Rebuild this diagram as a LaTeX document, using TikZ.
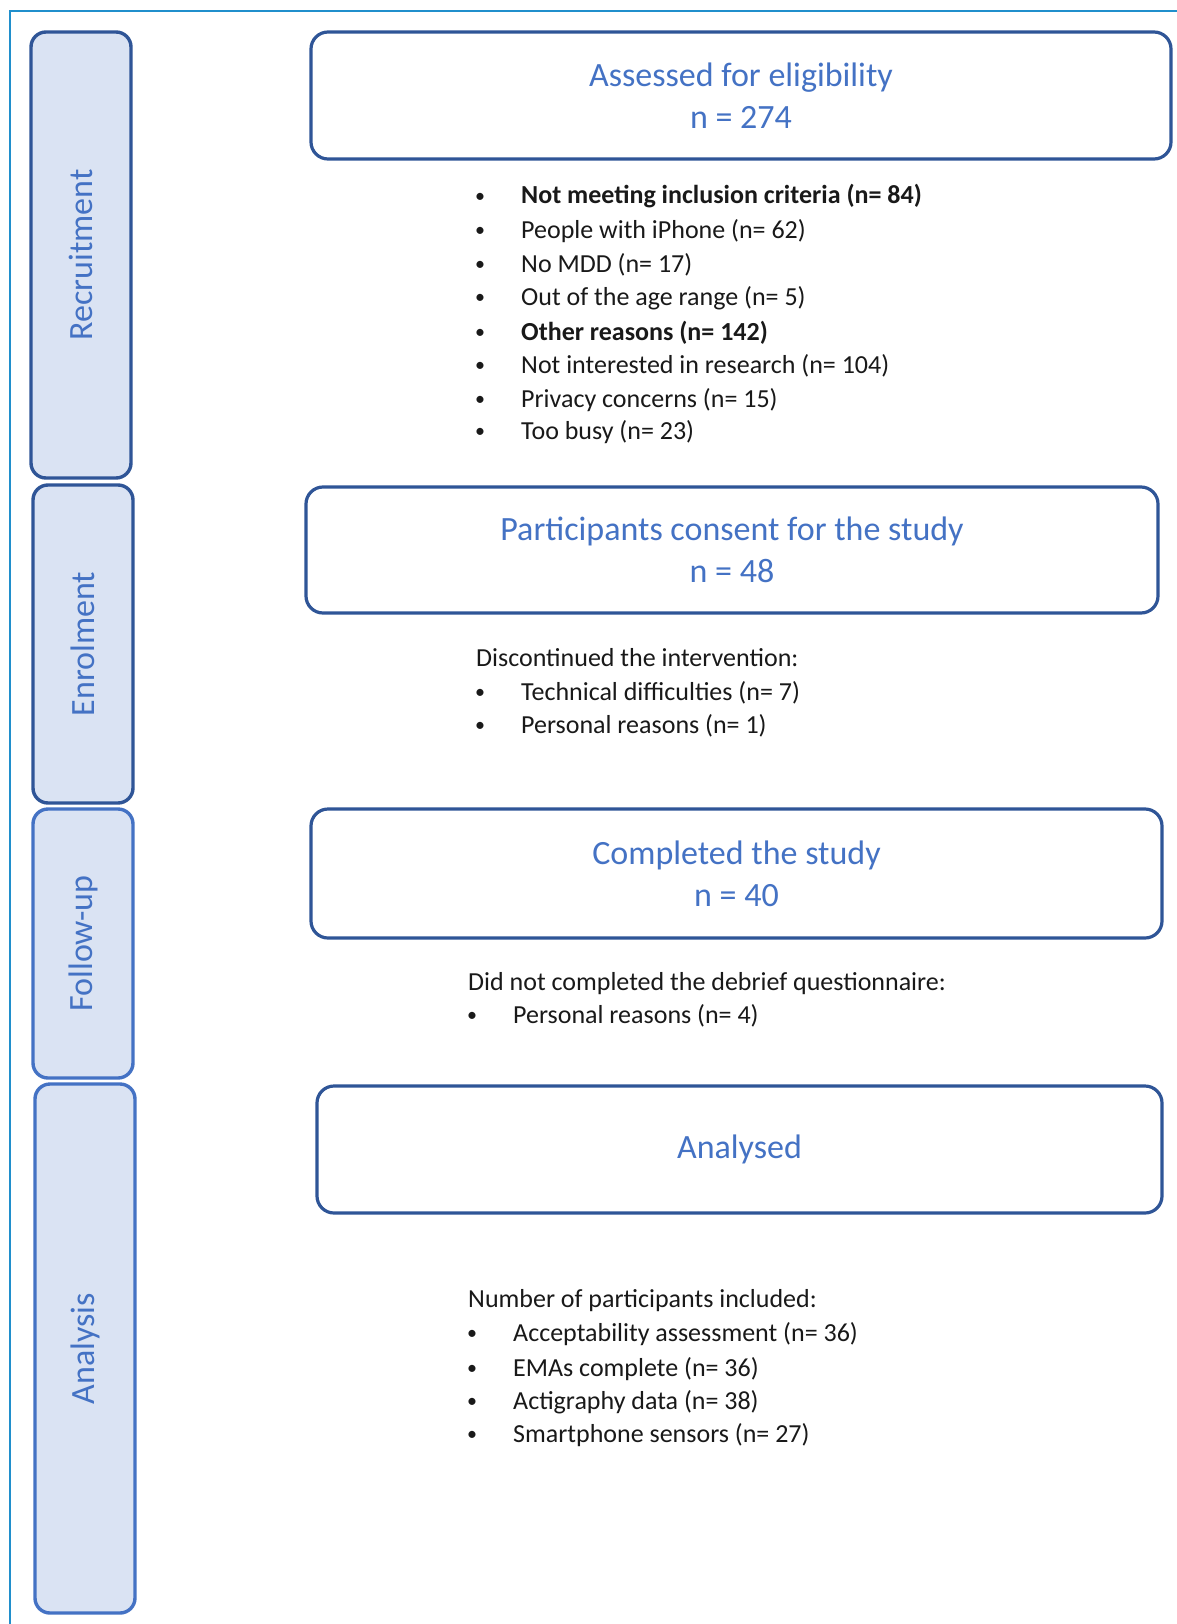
\documentclass[tikz,border=0pt]{standalone}
\usepackage{fontspec}
\setmainfont{Carlito}
\definecolor{outerblue}{RGB}{32,143,204}
\definecolor{boxblue}{RGB}{47,85,151}
\definecolor{lightborder}{RGB}{68,114,196}
\definecolor{sidefill}{RGB}{218,227,243}
\definecolor{titleblue}{RGB}{68,114,196}
\definecolor{bodyblack}{RGB}{25,25,25}
\tikzset{
  mainbox/.style={draw=boxblue, line width=3.2pt, rounded corners=17pt, fill=white,
    inner sep=0pt, align=center, text=titleblue, font=\fontsize{34}{42}\selectfont},
  sidebox/.style={draw=boxblue, line width=3.4pt, rounded corners=15pt, fill=sidefill,
    inner sep=0pt, minimum width=100pt},
  sidelight/.style={sidebox, draw=lightborder},
  sidelabel/.style={rotate=90, text=titleblue, inner sep=0pt, font=\fontsize{34}{40}\selectfont},
  bodytext/.style={anchor=base west, inner sep=0pt, text=bodyblack, font=\fontsize{26}{32}\selectfont},
  bulletmark/.style={anchor=base, inner sep=0pt, yshift=1.5pt, text=bodyblack, font=\fontsize{20}{24}\selectfont}
}
\begin{document}
\begin{tikzpicture}[x=1pt,y=-1pt]
\useasboundingbox (0,0) rectangle (1177,1624);
\fill[white] (0,0) rectangle (1177,1624);
% outer frame (top and left edges)
\coordinate (fbl) at (10,1624);
\coordinate (ftl) at (10,11);
\coordinate (ftr) at (1177,11);
\draw[outerblue, line width=2pt] (fbl) -- (ftl) -- (ftr);

% side boxes
\node[sidebox, minimum height=446pt] (rec) at (81,255) {};
\node[sidelabel] (reclbl) at (rec.center) {Recruitment};
\node[sidebox, minimum height=318pt] (enr) at (83,644) {};
\node[sidelabel] (enrlbl) at (enr.center) {Enrolment};
\node[sidelight, minimum height=269pt] (fol) at (83,943.5) {};
\node[sidelabel] (follbl) at (fol.center) {Follow-up};
\node[sidelight, minimum height=529pt] (ana) at (85,1348.5) {};
\node[sidelabel] (analbl) at (ana.center) {Analysis};

% main boxes
\node[mainbox, minimum width=860pt, minimum height=127pt] (assess) at (741,95.5)
  {Assessed for eligibility\\n = 274};
\node[mainbox, minimum width=852pt, minimum height=126pt] (consent) at (732,550)
  {Participants consent for the study\\n = 48};
\node[mainbox, minimum width=851pt, minimum height=129pt] (complete) at (736.5,873.5)
  {Completed the study\\n = 40};
\node[mainbox, minimum width=845pt, minimum height=127pt] (analysed) at (739.5,1149.5)
  {Analysed};

% exclusion list
\node[bulletmark] (b1) at (480,204) {•};
\node[bodytext] (t1) at (521,204) {\bfseries Not meeting inclusion criteria (n= 84)};
\node[bulletmark] (b2) at (480,238) {•};
\node[bodytext] (t2) at (521,238) {People with iPhone (n= 62)};
\node[bulletmark] (b3) at (480,272) {•};
\node[bodytext] (t3) at (521,272) {No MDD (n= 17)};
\node[bulletmark] (b4) at (480,305) {•};
\node[bodytext] (t4) at (521,305) {Out of the age range (n= 5)};
\node[bulletmark] (b5) at (480,340) {•};
\node[bodytext] (t5) at (521,340) {\bfseries Other reasons (n= 142)};
\node[bulletmark] (b6) at (480,373) {•};
\node[bodytext] (t6) at (521,373) {Not interested in research (n= 104)};
\node[bulletmark] (b7) at (480,407) {•};
\node[bodytext] (t7) at (521,407) {Privacy concerns (n= 15)};
\node[bulletmark] (b8) at (480,439) {•};
\node[bodytext] (t8) at (521,439) {Too busy (n= 23)};

% discontinued
\node[bodytext] (dh) at (476,666) {Discontinued the intervention:};
\node[bulletmark] (db1) at (480,700) {•};
\node[bodytext] (dt1) at (521,700) {Technical difficulties (n= 7)};
\node[bulletmark] (db2) at (480,733) {•};
\node[bodytext] (dt2) at (521,733) {Personal reasons (n= 1)};

% debrief
\node[bodytext] (qh) at (468,990) {Did not completed the debrief questionnaire:};
\node[bulletmark] (qb1) at (472,1023) {•};
\node[bodytext] (qt1) at (513,1023) {Personal reasons (n= 4)};

% analysed
\node[bodytext] (nh) at (468,1307) {Number of participants included:};
\node[bulletmark] (nb1) at (472,1341) {•};
\node[bodytext] (nt1) at (513,1341) {Acceptability assessment (n= 36)};
\node[bulletmark] (nb2) at (472,1376) {•};
\node[bodytext] (nt2) at (513,1376) {EMAs complete (n= 36)};
\node[bulletmark] (nb3) at (472,1409) {•};
\node[bodytext] (nt3) at (513,1409) {Actigraphy data (n= 38)};
\node[bulletmark] (nb4) at (472,1442) {•};
\node[bodytext] (nt4) at (513,1442) {Smartphone sensors (n= 27)};
\end{tikzpicture}
\end{document}
